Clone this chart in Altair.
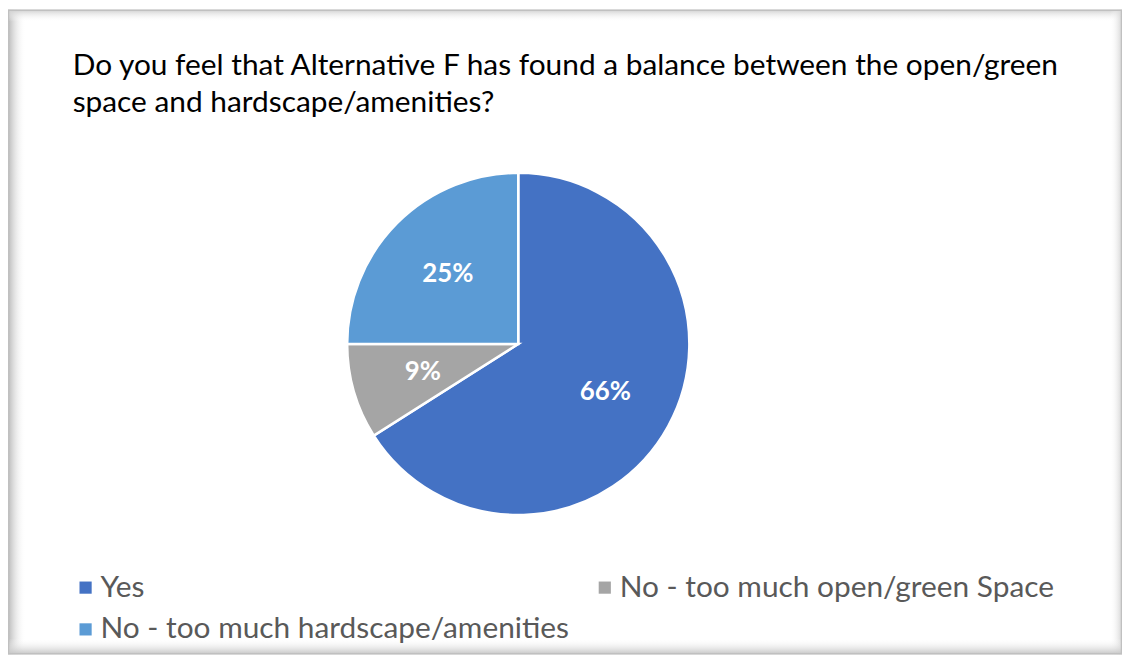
import altair as alt
import pandas as pd

categories = ["Yes", "No - too much open/green Space", "No - too much hardscape/amenities"]
values = [66, 9, 25]
labels = ["66%", "9%", "25%"]
colors = ["#4472C4", "#A5A5A5", "#5B9BD5"]
# legend fills column by column: Yes / hardscape in column 1, open/green in column 2
legend_order = ["Yes", "No - too much hardscape/amenities", "No - too much open/green Space"]
legend_colors = ["#4472C4", "#5B9BD5", "#A5A5A5"]
title_lines = [
    "Do you feel that Alternative F has found a balance between the open/green",
    "space and hardscape/amenities?",
]

W, H = 1120, 648
CX, CY, R = 513, 336, 172

df = pd.DataFrame({"category": categories, "value": values, "label": labels,
                   "order": list(range(len(categories)))})
one = pd.DataFrame({"k": [0]})

def grad(c0, c1, horizontal=True):
    return alt.LinearGradient(
        gradient="linear",
        stops=[alt.GradientStop(color=c0, offset=0), alt.GradientStop(color=c1, offset=1)],
        x1=0, x2=1 if horizontal else 0, y1=0, y2=0 if horizontal else 1,
    )

bg = alt.Chart(one).mark_rect(fill="white").encode(
    x=alt.value(0), x2=alt.value(W), y=alt.value(0), y2=alt.value(H))
left = alt.Chart(one).mark_rect(fill=grad("#b8b8b8", "rgba(255,255,255,0)")).encode(
    x=alt.value(0), x2=alt.value(18), y=alt.value(0), y2=alt.value(H))
top = alt.Chart(one).mark_rect(fill=grad("#cfcfcf", "rgba(255,255,255,0)", False)).encode(
    x=alt.value(0), x2=alt.value(W), y=alt.value(0), y2=alt.value(12))
right = alt.Chart(one).mark_rect(fill=grad("rgba(255,255,255,0)", "#d4d4d4")).encode(
    x=alt.value(W - 12), x2=alt.value(W), y=alt.value(0), y2=alt.value(H))
bottom = alt.Chart(one).mark_rect(fill=grad("rgba(255,255,255,0)", "#c4c4c4", False)).encode(
    x=alt.value(0), x2=alt.value(W), y=alt.value(H - 16), y2=alt.value(H))
frame = alt.Chart(one).mark_rect(fill=None, stroke="#c0c0c0", strokeWidth=1.5).encode(
    x=alt.value(0.5), x2=alt.value(W - 0.5), y=alt.value(0.5), y2=alt.value(H - 0.5))

base = alt.Chart(df).encode(
    theta=alt.Theta("value:Q", stack=True),
    order=alt.Order("order:Q"),
)

pie = base.mark_arc(outerRadius=R, stroke="white", strokeWidth=2.5).encode(
    x=alt.value(CX), y=alt.value(CY),
    color=alt.Color(
        "category:N",
        scale=alt.Scale(domain=legend_order, range=legend_colors),
        legend=alt.Legend(
            title=None, orient="none", legendX=63, legendY=566, columns=2,
            symbolType="square", symbolSize=150, symbolStrokeWidth=0,
            labelFont="Lato", labelFontSize=30, labelColor="#595959",
            labelOffset=0, columnPadding=20, rowPadding=12, padding=0,
            labelLimit=0,
        ),
    ),
)

text = base.mark_text(radius=100, font="Lato", fontSize=26, fontWeight="bold",
                      color="white").encode(
    x=alt.value(CX), y=alt.value(CY), text="label:N")

chart = alt.layer(bg, left, top, right, bottom, frame, pie, text).properties(
    width=W, height=H,
    autosize=alt.AutoSizeParams(type="none"),
    padding=0,
    title=alt.TitleParams(
        text=title_lines, anchor="start", frame="group", orient="top",
        font="Lato", fontSize=30, fontWeight="normal", color="#000000",
        lineHeight=37, dx=65, offset=-133, baseline="alphabetic",
    ),
).configure_view(stroke=None)

chart.save("out.html", embed_options={"renderer": "svg", "actions": False})
